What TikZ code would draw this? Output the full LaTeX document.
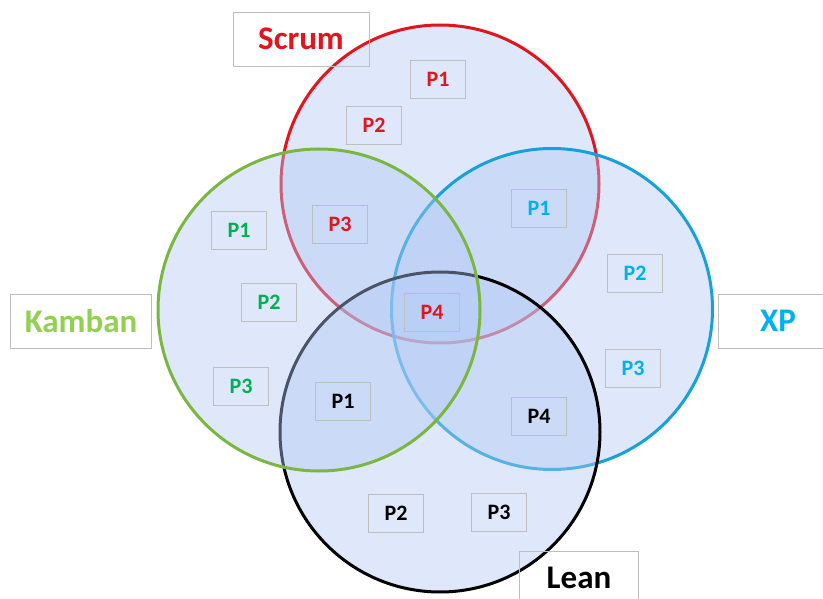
\documentclass[tikz,border=0pt]{standalone}
\usepackage{fontspec}
\setmainfont{Carlito}
\definecolor{scrumred}{RGB}{226,20,30}
\definecolor{kambangreen}{RGB}{122,182,64}
\definecolor{kambantext}{RGB}{146,208,80}
\definecolor{pgreen}{RGB}{0,176,80}
\definecolor{xpblue}{RGB}{24,160,218}
\definecolor{xptext}{RGB}{0,176,240}
\definecolor{vennfill}{RGB}{178,202,245}
\definecolor{boxgray}{RGB}{190,190,190}
\tikzset{
  venn/.style={circle, minimum size=#1, inner sep=0pt, line width=3pt, fill=vennfill, fill opacity=0.42},
  pbox/.style={draw=boxgray, line width=0.8pt, minimum width=55pt, minimum height=38pt, inner sep=0pt, font=\fontsize{22}{24}\selectfont\bfseries},
  namebox/.style={draw=boxgray, line width=0.8pt, minimum height=54pt, inner sep=0pt, font=\fontsize{33}{36}\selectfont\bfseries}
}
\begin{document}
\begin{tikzpicture}[x=1pt, y=-1pt]
    \useasboundingbox (0,0) rectangle (823,599);
    \fill[white] (0,0) rectangle (823,599);

    % the four sets
    \node[venn=318pt, draw=scrumred] (scrumset) at (440,184){};
    \node[venn=321pt, draw=xpblue] (xpset) at (552,309){};
    \node[venn=320pt, draw=black] (leanset) at (440,432){};
    \node[venn=322pt, draw=kambangreen] (kambanset) at (319,310){};

    % set names
    \node[namebox, minimum width=136pt, text=scrumred] at (301,39)(scrum){Scrum};
    \node[namebox, minimum width=141pt, text=kambantext] at (81,321)(kamban){Kamban};
    \node[namebox, minimum width=120pt, text=xptext] at (778,321)(xp){XP};
    \node[namebox, minimum width=119pt, text=black] at (579,578)(lean){Lean};

    % practices
    \node[pbox, text=scrumred] at (438,79)(s1){P1};
    \node[pbox, text=scrumred] at (374,125)(s2){P2};
    \node[pbox, text=scrumred] at (340,224)(s3){P3};
    \node[pbox, text=scrumred] at (432,312)(s4){P4};

    \node[pbox, text=pgreen] at (239,230)(k1){P1};
    \node[pbox, text=pgreen] at (269,302)(k2){P2};
    \node[pbox, text=pgreen] at (241,386)(k3){P3};

    \node[pbox, text=xptext] at (539,208)(x1){P1};
    \node[pbox, text=xptext] at (635,273)(x2){P2};
    \node[pbox, text=xptext] at (633,368)(x3){P3};

    \node[pbox, text=black] at (343,401)(l1){P1};
    \node[pbox, text=black] at (396,513)(l2){P2};
    \node[pbox, text=black] at (499,512)(l3){P3};
    \node[pbox, text=black] at (539,416)(l4){P4};
\end{tikzpicture}
\end{document}
